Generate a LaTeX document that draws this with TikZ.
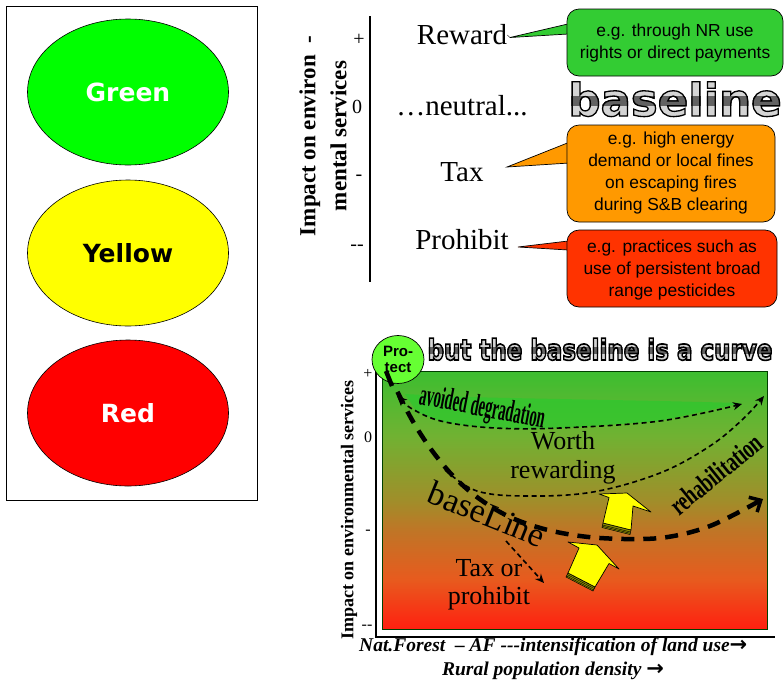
\documentclass[tikz,border=0pt]{standalone}
\usepackage{fontspec}
\setmainfont{Liberation Serif}
\newfontfamily\arialf{Liberation Sans}
\newfontfamily\dejaf{DejaVu Sans}
\usetikzlibrary{shapes.geometric,arrows.meta,calc}

\definecolor{lgreen}{HTML}{00FF00}
\definecolor{lyellow}{HTML}{FFFF00}
\definecolor{lred}{HTML}{FF0000}
\definecolor{cgreen}{HTML}{33CC33}
\definecolor{corange}{HTML}{FF9900}
\definecolor{cred}{HTML}{FF3300}
\definecolor{protectgreen}{HTML}{66FF33}
\definecolor{bandgreen}{HTML}{2EC82E}
\definecolor{g0}{HTML}{FF2010}
\definecolor{g1}{HTML}{E85A1E}
\definecolor{g2}{HTML}{C07526}
\definecolor{g3}{HTML}{A08E2A}
\definecolor{g4}{HTML}{70B232}
\definecolor{g5}{HTML}{3CBE30}
\definecolor{mlight}{HTML}{D4D4D4}
\definecolor{mdark}{HTML}{626262}

% land-use gradient: red at the bottom, green at the top
\pgfdeclareverticalshading{landuse}{100bp}{color(0bp)=(g0); color(25bp)=(g0); color(34.5bp)=(g1); color(44bp)=(g2); color(50bp)=(g3); color(62.5bp)=(g4); color(75bp)=(g5); color(100bp)=(g5)}

% glyphs filled with the current colour and stroked in black
\newcommand{\strokedtext}[1]{\special{pdf:literal direct 2 Tr 1.3 w 0 0 0 RG}#1\special{pdf:literal direct 0 Tr}}

% chrome lettering: light outlined word with a dark band across it
% #1 centre x, #2 baseline y, #3 letter height, #4 text with font, #5 node name
\newcommand{\metalword}[5]{%
  \node[anchor=base,inner sep=0pt,text=mlight] (#5) at (#1,#2) {\strokedtext{#4}};
  \begin{scope}\clip ({#1-260},{#2-0.56*#3}) rectangle ({#1+260},{#2-0.3*#3});
    \node[anchor=base,inner sep=0pt,text=mdark] at (#1,#2) {\strokedtext{#4}};\end{scope}%
}

\tikzset{
  lamp/.style={ellipse,draw=black,line width=0.6pt,minimum width=201pt,minimum height=146pt,
    font=\dejaf\bfseries\fontsize{25}{25}\selectfont},
  calloutbox/.style={draw=black,line width=0.7pt,rounded corners=12pt},
  wedge/.style={draw=black,line width=0.7pt},
  callouttext/.style={align=center,inner sep=0pt,font=\arialf\fontsize{17.4}{22}\selectfont},
  policy/.style={inner sep=0pt,font=\fontsize{29}{29}\selectfont},
  tick/.style={inner sep=0pt,font=\fontsize{20}{20}\selectfont},
  smalltick/.style={inner sep=0pt,font=\fontsize{16}{16}\selectfont},
  thickdash/.style={line width=4.5pt,dash pattern=on 13pt off 9pt},
  thindash/.style={line width=1.6pt,dash pattern=on 5pt off 3.5pt},
  thintip/.style={-{Stealth[length=9pt,width=8pt]}},
  blockarrow/.style={fill=lyellow,draw=black,line width=0.7pt,line join=round},
  arrowbase/.style={fill=lyellow!55!black,draw=black,line width=0.5pt},
  axisfont/.style={font=\bfseries\itshape\fontsize{19.5}{19.5}\selectfont},
}
\newcommand{\heavyarrow}{{\dejaf\bfseries\fontsize{21}{21}\selectfont →}}

\begin{document}
\begin{tikzpicture}[x=1pt,y=-1pt]
\useasboundingbox (0,0) rectangle (784,686);

% ---------- traffic light panel ----------
\node[draw=black,line width=0.6pt,minimum width=251pt,minimum height=494pt,inner sep=0pt] (panel) at (131.5,253) {};
\node[lamp,fill=lgreen,text=white] (green) at (128,92) {Green};
\node[lamp,fill=lyellow,text=black] (yellow) at (128,253) {Yellow};
\node[lamp,fill=lred,text=white] (red) at (128,413) {Red};

% ---------- policy scale ----------
\coordinate (axtop) at (370,16);
\coordinate (axbot) at (370,282);
\draw[line width=1.4pt] (axtop) -- (axbot);
\node[rotate=90,align=center,inner sep=0pt,font=\bfseries\fontsize{23}{31}\selectfont] (ylab) at (323,136) {Impact on environ~~-\\mental services};
\node[tick] (tplus) at (359,40) {+};
\node[tick] (tzero) at (357,107) {0};
\node[tick] (tminus) at (359,178) {-};
\node[tick] (tmm) at (357,248) {-{}-};

\node[policy] (reward) at (462,35) {Reward};
\node[policy] (neutral) at (462,106) {…neutral...};
\node[policy] (tax) at (462,172) {Tax};
\node[policy] (prohibit) at (462,240) {Prohibit};

% green speech box
\coordinate (gtip) at (510,37.5);
\draw[wedge,fill=cgreen] (gtip) -- (585,20) -- (585,33) -- cycle;
\draw[calloutbox,fill=cgreen] (567,9) rectangle (783,76);
\fill[cgreen] (567.8,20.4) -- (585,20) -- (585,33) -- (567.8,32.6) -- cycle;
\draw (reward.east) -- (gtip);
\node[callouttext] (greentext) at (675,43) {e.g. through NR use\\rights or direct payments};

% chrome "baseline"
\metalword{675}{116}{34}{\dejaf\bfseries\fontsize{45}{45}\selectfont baseline}{chromebase}

% orange speech box
\coordinate (otip) at (507,167);
\draw[wedge,fill=corange] (otip) -- (585,136) -- (585,162) -- cycle;
\draw[calloutbox,fill=corange] (567,125) rectangle (775,222);
\fill[corange] (567.8,138) -- (585,136) -- (585,162) -- (567.8,162.3) -- cycle;
\node[callouttext] (orangetext) at (671,173) {e.g. high energy\\demand or local fines\\on escaping fires\\during S\&B clearing};

% red speech box
\coordinate (rtip) at (518,247);
\draw[wedge,fill=cred] (rtip) -- (585,239) -- (585,251) -- cycle;
\draw[calloutbox,fill=cred] (567,230) rectangle (777,307);
\fill[cred] (567.8,240) -- (585,239) -- (585,251) -- (567.8,250.2) -- cycle;
\node[callouttext] (redtext) at (672,269.5) {e.g. practices such as\\use of persistent broad\\range pesticides};

% ---------- baseline curve chart ----------
\metalword{600}{360}{22}{\dejaf\bfseries\fontsize{23}{23}\selectfont\scalebox{1}[1.25]{but the baseline is a curve}}{title}

\shade[shading=landuse] (382,371) rectangle (767,629);
% brighter band kept by avoided degradation
\fill[bandgreen,opacity=0.75] plot[smooth,tension=0.6] coordinates {(405,394) (470,397) (560,399) (660,401) (742,403)}
  -- plot[smooth,tension=0.6] coordinates {(660,421) (560,428) (495,428) (445,422) (416,411)} -- cycle;
\draw[line width=0.9pt,draw=black!75!green] (382,371) rectangle (767,629);
\coordinate (yaxtop) at (376,371);
\coordinate (origin) at (376,637);
\coordinate (xaxend) at (775,637);
\draw[line width=1.1pt] (yaxtop) -- (origin) -- (xaxend);

\node[smalltick] (cplus) at (368,374) {+};
\node[smalltick] (czero) at (368,437) {0};
\node[smalltick] (cminus) at (368,532) {-};
\node[smalltick] (cmm) at (367,627) {-{}-};
\node[rotate=90,inner sep=0pt,font=\bfseries\fontsize{18}{18}\selectfont] (cylab) at (349,510) {Impact on environmental services};

\node[anchor=west,inner sep=0pt,axisfont] (xlab1) at (359,647) {Nat.Forest~ – AF -{}-{}-intensification of land use\heavyarrow};
\node[inner sep=0pt,axisfont] (xlab2) at (553,671) {Rural population density \heavyarrow};

% region labels
\node[inner sep=0pt,align=center,font=\fontsize{26}{29.5}\selectfont] (worth) at (563,458) {Worth\\rewarding};
\node[inner sep=0pt,align=center,font=\fontsize{26}{28}\selectfont] (taxor) at (489,585) {Tax or\\prohibit};
\node[rotate=-11,inner sep=0pt,font=\bfseries\fontsize{31}{31}\selectfont] (avoided) at (482,409) {\scalebox{0.47}[1]{avoided degradation}};
\node[rotate=-22,inner sep=0pt,font=\fontsize{34}{34}\selectfont] (baselab) at (487,514) {baseLine};
\node[rotate=39,inner sep=0pt,font=\bfseries\fontsize{28}{28}\selectfont] (rehab) at (716,474) {\scalebox{0.68}[1]{rehabilitation}};

% trajectories
\coordinate (bstart) at (388,372);
\coordinate (bend) at (763,499);
\draw[thickdash,-{Straight Barb[length=9pt,width=17pt,line width=3.5pt]}]
  plot[smooth,tension=0.55] coordinates {(bstart) (401,399) (415,425) (433,452) (455,478) (481,500) (512,518) (552,531) (600,538) (660,538) (710,526) (bend)};

\coordinate (adstart) at (397,396);
\coordinate (adend) at (742,404);
\draw[thindash,{Stealth[length=10pt,width=9pt]}-{Stealth[length=9pt,width=8pt]}]
  plot[smooth,tension=0.6] coordinates {(adstart) (416,411) (445,422) (495,428) (560,428) (660,421) (adend)};

\coordinate (rhstart) at (445,470);
\coordinate (rhend) at (764,396);
\draw[thindash,thintip]
  plot[smooth,tension=0.6] coordinates {(rhstart) (477,491) (527,496) (593,492) (660,473) (710,446) (743,419) (rhend)};

\coordinate (txstart) at (506,541);
\coordinate (txend) at (544,583);
\draw[thindash,thintip] (txstart) -- (txend);

% yellow block arrows
\draw[arrowbase] (603,523) -- (631,530) -- (630,534.5) -- (602,527.5) -- cycle;
\draw[line width=0.4pt] (602.6,525) -- (630.6,532) (602.3,526.3) -- (630.3,533.3);
\draw[blockarrow] (599,494) -- (627,493) -- (651,512) -- (633,506) -- (631,530) -- (603,523) -- (609,497.5) -- cycle;

\draw[arrowbase] (568,573) -- (595,587) -- (593,591) -- (566,577) -- cycle;
\draw[line width=0.4pt] (567.4,574.6) -- (594.4,588.6) (566.7,576) -- (593.7,590);
\draw[blockarrow] (568,542) -- (597,545) -- (619,569) -- (609,563.5) -- (595,587) -- (568,573) -- (579,548) -- cycle;

% protect marker
\node[ellipse,draw=black,line width=0.7pt,fill=protectgreen,minimum width=52pt,minimum height=48pt,inner sep=0pt,align=center,
  font=\arialf\bfseries\fontsize{15}{15.5}\selectfont] (protect) at (398,359.5) {Pro-\\tect};
\draw[line width=4.5pt] (386,371) -- (392,386);
\end{tikzpicture}
\end{document}
